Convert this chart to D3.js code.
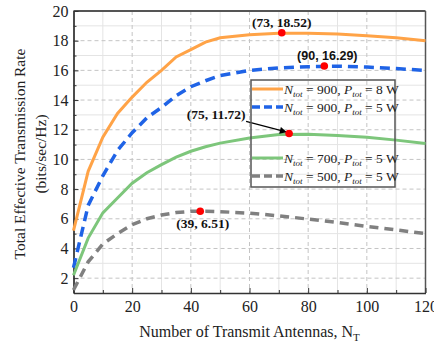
<!DOCTYPE html>
<html>
<head>
<meta charset="utf-8">
<script src="https://cdn.jsdelivr.net/npm/d3@7"></script>
<style>
	body { margin: 0; background: #fff; }
	svg { display: block; }
	.axis path, .axis line { stroke: #333; }
</style>
</head>
<body>
<svg id="chart"></svg>
<script>
// number of transmit antennas
const antennas = [0, 5, 10, 15, 20, 25, 30, 35, 40, 45, 50, 60, 70, 80, 90, 100, 110, 120];

// rate per series (bits/sec/Hz)
const rate900_8 = [5.2, 9.2, 11.5, 13.1, 14.2, 15.2, 16.0, 16.9, 17.4, 17.9, 18.2, 18.4, 18.5, 18.5, 18.45, 18.33, 18.2, 18.0];
const rate900_5 = [2.7, 6.9, 8.9, 10.6, 11.8, 12.8, 13.5, 14.3, 14.9, 15.3, 15.65, 16.0, 16.17, 16.25, 16.28, 16.22, 16.12, 16.0];
const rate700_5 = [2.2, 4.7, 6.4, 7.4, 8.4, 9.1, 9.65, 10.15, 10.55, 10.85, 11.1, 11.45, 11.68, 11.7, 11.62, 11.5, 11.3, 11.08];
const rate500_5 = [1.2, 3.1, 4.3, 5.0, 5.6, 6.0, 6.25, 6.42, 6.5, 6.51, 6.48, 6.38, 6.2, 5.98, 5.75, 5.48, 5.25, 5.0];

const seriesNtot = ['900', '900', '700', '500'];
const seriesPtot = ['8', '5', '5', '5'];

// marked peaks (dot position and its label)
const peakX = [71, 85.5, 73.5, 43.2];
const peakY = [18.53, 16.29, 11.75, 6.51];
const peakLabels = ['(73, 18.52)', '(90, 16.29)', '(75, 11.72)', '(39, 6.51)'];

const xTicks = [0, 20, 40, 60, 80, 100, 120];
const yTicks = [2, 4, 6, 8, 10, 12, 14, 16, 18, 20];

class LineChart {
	constructor(_config) {
		this.config = {
			parentElement: _config.parentElement,
			containerWidth: _config.containerWidth || 434,
			containerHeight: _config.containerHeight || 350,
			margin: _config.margin || { top: 11, right: 8.5, bottom: 57, left: 73.5 }
		}
		this.initVis();
	}

	initVis() {
		let vis = this;

		vis.width = vis.config.containerWidth - vis.config.margin.left - vis.config.margin.right;
		vis.height = vis.config.containerHeight - vis.config.margin.top - vis.config.margin.bottom;

		vis.xScale = d3.scaleLinear()
			.domain([0, 120])
			.range([0, vis.width]);

		vis.yScale = d3.scaleLinear()
			.domain([1, 20])
			.range([vis.height, 0]);

		vis.svg = d3.select(vis.config.parentElement)
			.attr("width", vis.config.containerWidth)
			.attr("height", vis.config.containerHeight);

		vis.svg.append("defs").append("marker")
			.attr("id", "arrow")
			.attr("viewBox", "0 0 10 10")
			.attr("refX", 9)
			.attr("refY", 5)
			.attr("markerWidth", 9)
			.attr("markerHeight", 7)
			.attr("markerUnits", "userSpaceOnUse")
			.attr("orient", "auto")
			.append("path")
			.attr("d", "M0,0L10,5L0,10z")
			.attr("fill", "#000");

		vis.chart = vis.svg.append("g")
			.attr("transform", `translate(${vis.config.margin.left},${vis.config.margin.top})`);

		// grid: light solid minor lines, dashed major lines
		const minorX = d3.range(10, 120, 20);
		const minorY = d3.range(3, 20, 2);
		vis.chart.append("g").selectAll("line.mx")
			.data(minorX)
			.join("line")
			.attr("x1", d => vis.xScale(d)).attr("x2", d => vis.xScale(d))
			.attr("y1", 0).attr("y2", vis.height)
			.attr("stroke", "#e4e4e4").attr("stroke-width", 1);
		vis.chart.append("g").selectAll("line.my")
			.data(minorY)
			.join("line")
			.attr("x1", 0).attr("x2", vis.width)
			.attr("y1", d => vis.yScale(d)).attr("y2", d => vis.yScale(d))
			.attr("stroke", "#e4e4e4").attr("stroke-width", 1);
		vis.chart.append("g").selectAll("line")
			.data(xTicks.slice(1, -1))
			.join("line")
			.attr("x1", d => vis.xScale(d)).attr("x2", d => vis.xScale(d))
			.attr("y1", 0).attr("y2", vis.height)
			.attr("stroke", "#c4c4c4").attr("stroke-width", 1)
			.attr("stroke-dasharray", "4,3");
		vis.chart.append("g").selectAll("line")
			.data(yTicks.slice(0, -1))
			.join("line")
			.attr("x1", 0).attr("x2", vis.width)
			.attr("y1", d => vis.yScale(d)).attr("y2", d => vis.yScale(d))
			.attr("stroke", "#c4c4c4").attr("stroke-width", 1)
			.attr("stroke-dasharray", "4,3");

		// top and right frame
		vis.chart.append("line")
			.attr("x1", 0).attr("x2", vis.width).attr("y1", 0).attr("y2", 0)
			.attr("stroke", "#555").attr("stroke-width", 2);
		vis.chart.append("line")
			.attr("x1", vis.width).attr("x2", vis.width).attr("y1", 0).attr("y2", vis.height)
			.attr("stroke", "#555").attr("stroke-width", 1.5);

		// axes with inward ticks
		vis.xAxis = d3.axisBottom(vis.xScale).tickValues(xTicks).tickSizeInner(-5).tickSizeOuter(0).tickPadding(8);
		vis.yAxis = d3.axisLeft(vis.yScale).tickValues(yTicks).tickSizeInner(-5).tickSizeOuter(0).tickPadding(5);
		vis.xMinor = d3.axisBottom(vis.xScale).tickValues(minorX).tickSizeInner(-3).tickSizeOuter(0).tickFormat("");
		vis.yMinor = d3.axisLeft(vis.yScale).tickValues(minorY).tickSizeInner(-3).tickSizeOuter(0).tickFormat("");

		vis.xAxisGroup = vis.chart.append("g").attr("class", "axis x-axis")
			.attr("transform", `translate(0,${vis.height})`);
		vis.yAxisGroup = vis.chart.append("g").attr("class", "axis y-axis");
		vis.xMinorGroup = vis.chart.append("g").attr("class", "axis")
			.attr("transform", `translate(0,${vis.height})`);
		vis.yMinorGroup = vis.chart.append("g").attr("class", "axis");

		// axis titles
		const xTitle = vis.svg.append("text")
			.attr("x", vis.config.margin.left + vis.width / 2)
			.attr("y", 337)
			.attr("text-anchor", "middle")
			.style("font-family", "Liberation Serif, serif")
			.style("font-size", "16px")
			.attr("fill", "#222");
		xTitle.append("tspan").text("Number of Transmit Antennas, N");
		xTitle.append("tspan").attr("dy", 4).style("font-size", "11px").text("T");

		const yTitle = vis.svg.append("text")
			.attr("transform", `translate(0,${vis.config.margin.top + vis.height / 2 + 2}) rotate(-90)`)
			.attr("text-anchor", "middle")
			.style("font-family", "Liberation Serif, serif")
			.style("font-size", "15.5px")
			.attr("fill", "#222");
		yTitle.append("tspan").attr("x", 0).attr("y", 25).text("Total Effective Transmission Rate");
		yTitle.append("tspan").attr("x", 0).attr("y", 46).text("(bits/sec/Hz)");
	}

	updateVis() {
		let vis = this;

		vis.series = [
			{ values: rate900_8, color: "#ffa347", dash: null, width: 3 },
			{ values: rate900_5, color: "#1f63e6", dash: "10,6", width: 3.5 },
			{ values: rate700_5, color: "#7dc67b", dash: null, width: 3 },
			{ values: rate500_5, color: "#808080", dash: "9,6", width: 3.5 }
		];
		vis.series.forEach((s, i) => {
			s.points = antennas.map((a, j) => ({ x: a, y: s.values[j] }));
			s.ntot = seriesNtot[i];
			s.ptot = seriesPtot[i];
		});

		vis.peaks = peakX.map((x, i) => ({ x: x, y: peakY[i], label: peakLabels[i] }));

		vis.line = d3.line()
			.x(d => vis.xScale(d.x))
			.y(d => vis.yScale(d.y));

		vis.renderVis();
	}

	renderVis() {
		let vis = this;

		vis.chart.selectAll(".series")
			.data(vis.series)
			.join("path")
			.attr("class", "series")
			.attr("d", d => vis.line(d.points))
			.attr("fill", "none")
			.attr("stroke", d => d.color)
			.attr("stroke-width", d => d.width)
			.attr("stroke-dasharray", d => d.dash);

		vis.xAxisGroup.call(vis.xAxis);
		vis.yAxisGroup.call(vis.yAxis);
		vis.xMinorGroup.call(vis.xMinor);
		vis.yMinorGroup.call(vis.yMinor);
		vis.xAxisGroup.select(".domain").attr("stroke-width", 1.5);
		vis.yAxisGroup.select(".domain").attr("stroke-width", 1.5);
		vis.chart.selectAll(".axis text")
			.style("font-family", "Liberation Serif, serif")
			.style("font-size", "16px")
			.attr("fill", "#222");

		// legend box (transparent, grid shows through)
		const legendRows = [89, 107, 158, 176];
		const legend = vis.svg.append("g");
		legend.append("rect")
			.attr("x", 251).attr("y", 80)
			.attr("width", 144).attr("height", 107)
			.attr("fill", "none")
			.attr("stroke", "#555").attr("stroke-width", 1.5);

		const items = legend.selectAll(".legend-item")
			.data(vis.series)
			.join("g")
			.attr("class", "legend-item")
			.attr("transform", (d, i) => `translate(252,${legendRows[i]})`);
		items.append("line")
			.attr("x1", 0).attr("x2", 31)
			.attr("stroke", d => d.color)
			.attr("stroke-width", d => d.width)
			.attr("stroke-dasharray", d => d.dash ? "8,4" : null);
		const labels = items.append("text")
			.attr("x", 32).attr("y", 4.5)
			.style("font-family", "Liberation Serif, serif")
			.style("font-size", "13.5px")
			.attr("fill", "#222");
		labels.append("tspan").style("font-style", "italic").text("N");
		labels.append("tspan").style("font-style", "italic").style("font-size", "9px").attr("dy", 3).text("tot");
		labels.append("tspan").attr("dy", -3).text(d => ` = ${d.ntot}, `);
		labels.append("tspan").style("font-style", "italic").text("P");
		labels.append("tspan").style("font-style", "italic").style("font-size", "9px").attr("dy", 3).text("tot");
		labels.append("tspan").attr("dy", -3).text(d => ` = ${d.ptot} W`);

		// peak annotations
		const labelOffsets = [[0, -6], [3, -6], [-73, -14], [2.5, 17]];
		const labelFonts = ["Liberation Serif, serif", "Liberation Sans, sans-serif", "Liberation Serif, serif", "Liberation Serif, serif"];
		const annot = vis.chart.append("g");
		annot.selectAll("text")
			.data(vis.peaks)
			.join("text")
			.attr("x", (d, i) => vis.xScale(d.x) + labelOffsets[i][0])
			.attr("y", (d, i) => vis.yScale(d.y) + labelOffsets[i][1])
			.attr("text-anchor", "middle")
			.style("font-family", (d, i) => labelFonts[i])
			.style("font-weight", "bold")
			.style("font-size", (d, i) => i === 1 ? "12.5px" : "13.5px")
			.attr("fill", "#111")
			.text(d => d.label);

		// arrow from the (75, 11.72) label to its point
		const g = vis.peaks[2];
		annot.append("line")
			.attr("x1", vis.xScale(g.x) - 43)
			.attr("y1", vis.yScale(g.y) - 12)
			.attr("x2", vis.xScale(g.x) - 3)
			.attr("y2", vis.yScale(g.y) - 1.5)
			.attr("stroke", "#000")
			.attr("stroke-width", 1.2)
			.attr("marker-end", "url(#arrow)");

		annot.selectAll("circle")
			.data(vis.peaks)
			.join("circle")
			.attr("cx", d => vis.xScale(d.x))
			.attr("cy", d => vis.yScale(d.y))
			.attr("r", 3.8)
			.attr("fill", "#ff0000");
	}
}

const chart = new LineChart({ parentElement: "#chart" });
chart.updateVis();
</script>
</body>
</html>
